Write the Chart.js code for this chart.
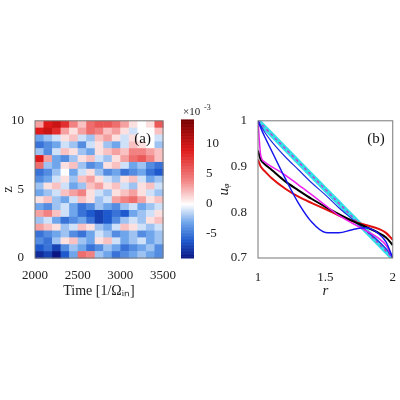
<!DOCTYPE html>
<html>
<head>
<script src="https://cdn.jsdelivr.net/npm/chart.js@4"></script>
<style>
body { margin: 0; background: #fff; }
.box { position: absolute; }
</style>
</head>
<body>
<div class="box" style="left:0;top:110px;width:178px;height:190px"><canvas id="heat"></canvas></div>
<div class="box" style="left:178px;top:100px;width:50px;height:200px"><canvas id="cbar"></canvas></div>
<div class="box" style="left:215px;top:110px;width:185px;height:190px"><canvas id="prof"></canvas></div>
<script>
// space-time diagram, units of 1e-3, rows from z=10 (top) down to z=0
const timeEdges = [2000, 2100, 2200, 2300, 2400, 2500, 2600, 2700, 2800, 2900, 3000, 3100, 3200, 3300, 3400, 3500];
const zEdges = [10, 9.5, 9, 8.5, 8, 7.5, 7, 6.5, 6, 5.5, 5, 4.5, 4, 3.5, 3, 2.5, 2, 1.5, 1, 0.5, 0];
const heatValues = [
  [3, 9, 10, 8, 4, 2, 5, 6, 6, 5, 3, 1, 0, 1, 6],
  [9, 10, 8, 3, 1, 3, 5, 4, 2, 3, 1, -1, 0, 0, 2],
  [-3, -2, -1, 1, 2, -1, -2, 2, 3, 1, -1, 1, 0, 0, -1],
  [-5, -4, -3, -1, -2, -4, -1, 1, -2, -3, -1, 2, 1, 0, -2],
  [-2, -4, -1, 2, 1, -2, -3, 1, 2, 3, 2, 4, 4, 3, 2],
  [9, 3, -3, -4, -2, 1, 2, -1, -2, 1, 3, 5, 6, 4, 2],
  [5, -2, -3, 1, 2, -2, -4, -3, 1, 2, -1, -3, -2, -4, -5],
  [-5, -4, -2, 0, -3, -1, 1, -2, -4, -3, -5, -4, -3, -5, -6],
  [-4, -3, -1, 1, -2, 2, 3, 1, -1, -2, 1, 2, -1, -3, -2],
  [-2, 1, 2, -1, -3, -2, 2, 3, 1, 2, -1, -2, 1, 2, -1],
  [-3, -2, -1, 2, 3, 4, 1, -1, -2, 1, 2, 3, 1, -1, -2],
  [1, 2, -2, -3, -1, 2, 1, -2, -1, 3, 4, 5, 3, 1, 2],
  [-3, -4, -2, -1, -3, -5, -4, -2, -3, -4, -2, -1, -3, -2, -1],
  [3, 4, 2, -1, -3, -5, -6, -7, -6, -5, -6, -3, -2, -1, 1],
  [-2, -1, -3, -5, -4, -3, -5, -7, -6, -4, -2, -1, -2, 1, 2],
  [3, 2, 1, -2, -1, 2, 1, -2, -3, -1, 2, 1, -1, -2, -1],
  [-5, -4, -3, -2, -4, -5, -3, -1, -2, -4, -3, -2, -4, -3, -2],
  [-4, -5, -2, 1, 2, -2, -3, 1, 2, -1, -3, -2, -1, -3, -2],
  [-6, -5, -7, -4, -2, -3, -5, -4, -2, -3, -5, -4, -3, -2, -4],
  [-8, -7, -9, -6, -3, 5, 4, -2, -3, -5, -4, -3, -2, -3, -4]
];
const zTicks = [0, 5, 10];
const timeTicks = [2000, 2500, 3000, 3500];
const cbarMin = -9, cbarMax = 14;
const cbarTicks = [-5, 0, 5, 10];

// mean azimuthal velocity profiles
const radius = [1, 1.02, 1.05, 1.1, 1.2, 1.3, 1.4, 1.5, 1.6, 1.7, 1.8, 1.9, 1.95, 2];
const uCouette = [1, 0.994, 0.985, 0.97, 0.94, 0.91, 0.88, 0.85, 0.82, 0.79, 0.76, 0.73, 0.715, 0.7];
const uNear = [1, 0.99, 0.975, 0.955, 0.922, 0.893, 0.864, 0.838, 0.81, 0.785, 0.76, 0.735, 0.72, 0.7];
const uBlue = [1, 0.985, 0.965, 0.935, 0.875, 0.82, 0.778, 0.756, 0.755, 0.762, 0.766, 0.752, 0.735, 0.7];
const uBlack = [0.935, 0.915, 0.905, 0.893, 0.868, 0.848, 0.829, 0.812, 0.796, 0.781, 0.768, 0.754, 0.745, 0.728];
const uRed = [0.915, 0.9, 0.89, 0.875, 0.852, 0.834, 0.82, 0.807, 0.793, 0.781, 0.772, 0.763, 0.755, 0.74];
const uMagenta = [1, 0.925, 0.91, 0.9, 0.882, 0.86, 0.838, 0.815, 0.793, 0.776, 0.76, 0.742, 0.728, 0.7];

const serif = 'Liberation Serif';
Chart.defaults.font.family = serif;
Chart.defaults.font.size = 13;
Chart.defaults.color = '#222';
Chart.defaults.animation = false;
Chart.defaults.maintainAspectRatio = false;

function colorFor(v) {
  const stops = v < 0
    ? [[-9, [10, 20, 130]], [-6, [30, 90, 205]], [-3, [110, 165, 235]], [0, [255, 255, 255]]]
    : [[0, [255, 255, 255]], [4, [242, 130, 130]], [9, [222, 25, 25]], [14, [120, 0, 0]]];
  for (let i = 0; i < stops.length - 1; i++) {
    const [a, ca] = stops[i], [b, cb] = stops[i + 1];
    if (v >= a && v <= b) {
      const t = (v - a) / (b - a);
      return 'rgb(' + ca.map((c, k) => Math.round(c + (cb[k] - c) * t)).join(',') + ')';
    }
  }
  return v < 0 ? 'rgb(10,20,130)' : 'rgb(120,0,0)';
}

const frame = {
  id: 'frame',
  afterDraw(chart) {
    const a = chart.chartArea, ctx = chart.ctx;
    ctx.save();
    ctx.strokeStyle = '#777';
    ctx.lineWidth = 1;
    ctx.strokeRect(a.left, a.top, a.right - a.left, a.bottom - a.top);
    ctx.restore();
  }
};

const cells = {
  id: 'cells',
  beforeDatasetsDraw(chart) {
    const xs = chart.scales.x, ys = chart.scales.y, ctx = chart.ctx;
    ctx.save();
    heatValues.forEach((row, i) => {
      row.forEach((v, j) => {
        const x0 = xs.getPixelForValue(timeEdges[j]), x1 = xs.getPixelForValue(timeEdges[j + 1]);
        const y0 = ys.getPixelForValue(zEdges[i]), y1 = ys.getPixelForValue(zEdges[i + 1]);
        ctx.fillStyle = colorFor(v);
        ctx.fillRect(x0, y0, x1 - x0 + 0.5, y1 - y0 + 0.5);
      });
    });
    ctx.restore();
  }
};

function label(text, px, py) {
  return {
    id: 'label' + text,
    afterDraw(chart) {
      const ctx = chart.ctx;
      ctx.save();
      ctx.font = '15px ' + serif;
      ctx.fillStyle = '#111';
      ctx.textAlign = 'right';
      ctx.fillText(text, chart.chartArea.right - px, chart.chartArea.top + py);
      ctx.restore();
    }
  };
}

const fixW = w => ({ afterFit(s) { s.width = w; } });
const fixH = h => ({ afterFit(s) { s.height = h; } });
const plain = v => String(v);

new Chart(document.getElementById('heat'), {
  type: 'scatter',
  data: { datasets: [{ data: [] }] },
  options: {
    layout: { padding: { top: 10, right: 6 } },
    plugins: { legend: { display: false }, tooltip: { enabled: false } },
    scales: {
      x: {
        min: 2000, max: 3500,
        afterBuildTicks(s) { s.ticks = timeTicks.map(v => ({ value: v })); },
        grid: { display: false },
        border: { display: false },
        ticks: { maxRotation: 0, padding: 2, callback: plain },
        title: { display: true, text: 'Time [1/Ωᵢₙ]', font: { size: 14 }, padding: 0 },
        ...fixH(42)
      },
      y: {
        min: 0, max: 10,
        afterBuildTicks(s) { s.ticks = zTicks.map(v => ({ value: v })); },
        grid: { display: false },
        border: { display: false },
        ticks: { callback: plain },
        title: { display: true, text: 'z', font: { size: 14 }, padding: 0 },
        ...fixW(35)
      }
    }
  },
  plugins: [cells, frame, label('(a)', 12, 22)]
});

const gradient = {
  id: 'gradient',
  beforeDatasetsDraw(chart) {
    const a = chart.chartArea, ys = chart.scales.y, ctx = chart.ctx;
    ctx.save();
    for (let v = cbarMin; v < cbarMax; v += 0.1) {
      const y0 = ys.getPixelForValue(v + 0.1), y1 = ys.getPixelForValue(v);
      ctx.fillStyle = colorFor(v + 0.05);
      ctx.fillRect(a.left, y0, a.right - a.left, y1 - y0 + 0.5);
    }
    ctx.fillStyle = '#222';
    ctx.font = '11px ' + serif;
    ctx.fillText('×10', a.left + 2, a.top - 5);
    ctx.font = '8px ' + serif;
    ctx.fillText('-3', a.left + 23, a.top - 10);
    ctx.restore();
  }
};

new Chart(document.getElementById('cbar'), {
  type: 'scatter',
  data: { datasets: [{ data: [] }] },
  options: {
    layout: { padding: { top: 20, left: 3, bottom: 42 } },
    plugins: { legend: { display: false }, tooltip: { enabled: false } },
    scales: {
      x: { display: false, min: 0, max: 1 },
      y: {
        position: 'right',
        min: cbarMin, max: cbarMax,
        afterBuildTicks(s) { s.ticks = cbarTicks.map(v => ({ value: v })); },
        grid: { display: false },
        border: { display: false },
        ticks: { padding: 4, callback: plain },
        ...fixW(34)
      }
    }
  },
  plugins: [gradient]
});

const pts = ys => radius.map((r, i) => ({ x: r, y: ys[i] }));

// first dataset is drawn on top
new Chart(document.getElementById('prof'), {
  type: 'line',
  data: {
    datasets: [
      { data: pts(uBlue), borderColor: '#1515ee', borderWidth: 1.5 },
      { data: pts(uMagenta), borderColor: '#ee22ee', borderWidth: 1.5 },
      { data: pts(uBlack), borderColor: '#000', borderWidth: 2 },
      { data: pts(uRed), borderColor: '#e01010', borderWidth: 2 },
      { data: pts(uNear), borderColor: '#2030e0', borderWidth: 1.2 },
      { data: pts(uCouette), borderColor: '#c040d0', borderWidth: 1.5, borderDash: [3, 3] },
      { data: pts(uCouette), borderColor: '#33e0e8', borderWidth: 5 }
    ]
  },
  options: {
    layout: { padding: { top: 10, right: 2 } },
    elements: { point: { radius: 0 }, line: { tension: 0.4, cubicInterpolationMode: 'monotone' } },
    plugins: { legend: { display: false }, tooltip: { enabled: false } },
    scales: {
      x: {
        type: 'linear', min: 1, max: 2,
        afterBuildTicks(s) { s.ticks = [1, 1.5, 2].map(v => ({ value: v })); },
        grid: { display: false },
        border: { display: false },
        ticks: { maxRotation: 0, padding: 4, callback: plain },
        title: { display: true, text: 'r', font: { size: 15, style: 'italic' }, padding: 0 },
        ...fixH(42)
      },
      y: {
        min: 0.7, max: 1,
        afterBuildTicks(s) { s.ticks = [0.7, 0.8, 0.9, 1].map(v => ({ value: v })); },
        grid: { display: false },
        border: { display: false },
        ticks: { callback: plain },
        title: { display: true, text: 'uᵩ', font: { size: 15, style: 'italic' }, padding: 0 },
        ...fixW(43)
      }
    }
  },
  plugins: [frame, label('(b)', 8, 22)]
});
</script>
</body>
</html>
